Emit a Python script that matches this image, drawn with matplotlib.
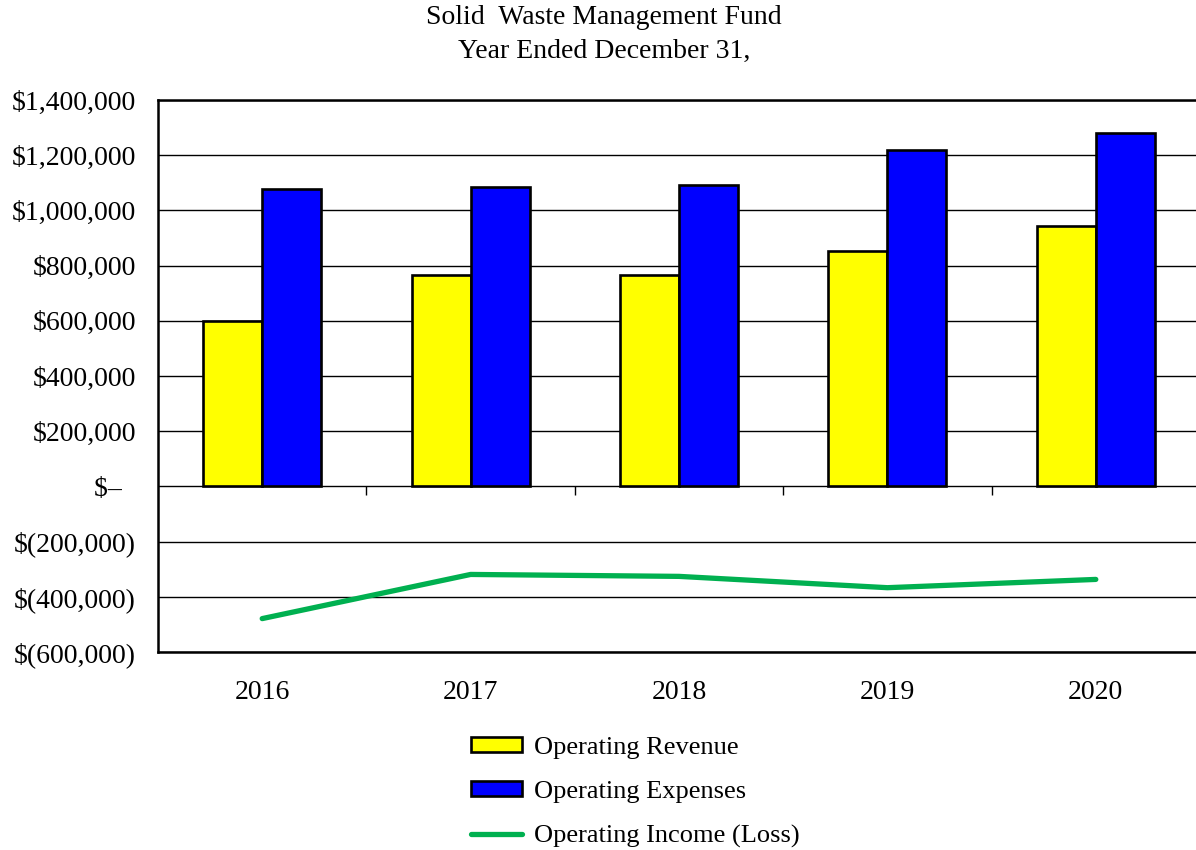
import numpy as np
import matplotlib.pyplot as plt
from matplotlib.ticker import FuncFormatter

# Datos
years = ['2016', '2017', '2018', '2019', '2020']
revenue = [599000, 766000, 766000, 853000, 944000]
expenses = [1078000, 1085000, 1092000, 1220000, 1281000]
income = [-479000, -319000, -326000, -367000, -337000]

plt.rcParams['font.family'] = ['Liberation Serif', 'DejaVu Serif']

fig = plt.figure(figsize=(11.96, 8.5), dpi=100)
ax = fig.add_axes([158 / 1196, 198 / 850, 1042 / 1196, 552 / 850])

x = np.arange(len(years))
w = 0.283

b1 = ax.bar(x - w / 2, revenue, w, color='#FFFF00', edgecolor='black', linewidth=1.9,
            label='Operating Revenue', zorder=3)
b2 = ax.bar(x + w / 2, expenses, w, color='#0000FF', edgecolor='black', linewidth=1.9,
            label='Operating Expenses', zorder=3)
l1, = ax.plot(x, income, color='#00B050', linewidth=3.8, solid_capstyle='round',
              label='Operating Income (Loss)', zorder=4)

# Marcas de categoría sobre la línea de cero
ax.vlines(np.arange(0.5, len(years) - 1), -30000, 0, color='black', linewidth=1, zorder=2)

ax.set_xlim(-0.5, len(years) - 0.5)
ax.set_ylim(-600000, 1400000)
ax.set_yticks(np.arange(-600000, 1400001, 200000))


def money(v, pos):
    if v == 0:
        return '$\u2013  '
    if v < 0:
        return '$({:,.0f})'.format(-v)
    return '${:,.0f}'.format(v)


ax.yaxis.set_major_formatter(FuncFormatter(money))
ax.set_xticks(x)
ax.set_xticklabels(years)
ax.tick_params(axis='y', length=0, pad=16, labelsize=20)
ax.tick_params(axis='x', length=0, pad=20, labelsize=20)

ax.grid(axis='y', color='black', linewidth=1, zorder=1)
ax.set_axisbelow(True)
for s in ['left', 'bottom', 'top']:
    ax.spines[s].set_linewidth(1.8)
ax.spines['right'].set_visible(False)

fig.text(0.505, 0.979, 'Solid  Waste Management Fund', ha='center', va='center', fontsize=20)
fig.text(0.505, 0.939, 'Year Ended December 31,', ha='center', va='center', fontsize=20)

leg = fig.legend([b1, b2, l1], [b1.get_label(), b2.get_label(), l1.get_label()],
                 loc='center', bbox_to_anchor=(0.531, 0.0675),
                 frameon=False, fontsize=19, handlelength=1.95, handleheight=0.5,
                 labelspacing=0.84, handletextpad=0.45)

plt.savefig('out.png', dpi=100)
plt.close()
